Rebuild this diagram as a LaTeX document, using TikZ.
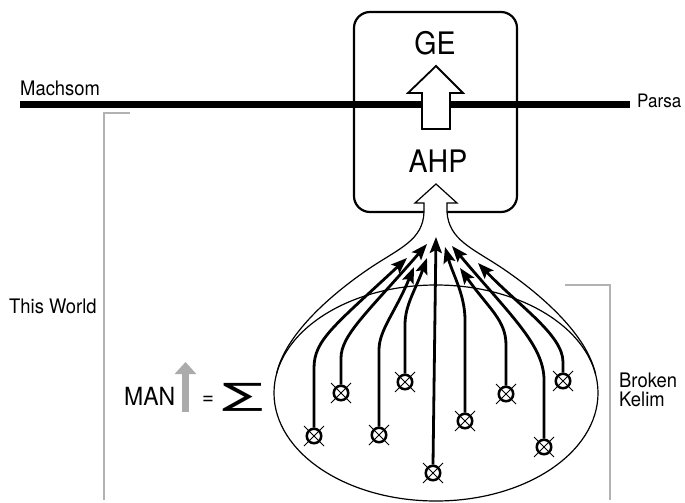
\documentclass[tikz,border=0pt]{standalone}
\usepackage{fontspec}
\setmainfont{TeX Gyre Heros}[FakeStretch=0.92]
\newfontfamily\symfont{DejaVu Sans}
\usetikzlibrary{arrows.meta}
\begin{document}
\begin{tikzpicture}[x=1pt,y=-1pt,
  lbl/.style={font=\fontsize{20}{23}\selectfont, inner sep=0pt, anchor=base west},
  big/.style={font=\fontsize{31}{35}\selectfont, inner sep=0pt, anchor=base},
  flow/.style={line width=2.8pt, -{Stealth[length=16pt,width=12pt,inset=3pt]}},
  xmark/.style={circle, draw, line width=2.5pt, minimum size=14.5pt, inner sep=0pt, fill=white},
  brk/.style={draw=black!30, line width=1.5pt},
  thinline/.style={line width=1.2pt}]
\useasboundingbox (0,0) rectangle (685,503);

% brackets
\draw[brk] (130,113) -- (104,113) -- (104,500);
\draw[brk] (565,285) -- (610,285) -- (610,500);

% box
\node[draw, line width=2.2pt, rounded corners=16pt, minimum width=163pt, minimum height=200pt] (box) at (435.5,112) {};

% thick line
\coordinate (lineL) at (20,104.5);
\coordinate (lineR) at (630,104.5);
\draw[line width=6.5pt] (lineL) -- (lineR);

% GE arrow
\draw[line width=1.8pt, fill=white] (422,129) -- (422,93) -- (408,93) -- (436,66) -- (463,93) -- (450,93) -- (450,129) -- cycle;

\node[big] (ge) at (435,55) {GE};
\node[big] (ahp) at (438,172) {AHP};

% envelope with AHP arrow
\coordinate (eL) at (276.5,374);
\coordinate (eR) at (595.5,374);
\draw[thinline, fill=white] (eL) .. controls (285,335) and (330,295) .. (370,268)
  .. controls (400,248) and (423,240) .. (424,212) -- (424,203) -- (415,203) -- (436,184)
  -- (457,203) -- (447,203) -- (447,212) .. controls (449,240) and (472,248) .. (502,268)
  .. controls (542,295) and (587,335) .. (eR);

% ellipse
\draw[thinline] (436,393) ellipse [x radius=162, y radius=108];

% markers
\foreach \n/\x/\y in {1/314/436, 2/341/393, 3/379/435, 4/405/382, 5/433/473, 6/465/421, 7/506/394, 8/544/447, 9/563/381}{
  \node[xmark] (m\n) at (\x,\y) {};
}

% tips
\coordinate (t1) at (407,258);
\coordinate (t2) at (427,244);
\coordinate (t3) at (414,267);
\coordinate (t4) at (427,258);
\coordinate (t5) at (436,237);
\coordinate (t6) at (445,247);
\coordinate (t7) at (460,268);
\coordinate (t8) at (452,246);
\coordinate (t9) at (478,263);

\draw[flow] (m1.north) -- (314,368) .. controls (314,340) and (334,326) .. (t1);
\draw[flow] (m2.north) -- (341,358) .. controls (341,335) and (368,312) .. (t2);
\draw[flow] (m3.north) -- (379,350) .. controls (379,330) and (395,313) .. (t3);
\draw[flow] (m4.north) -- (405,325) .. controls (405,305) and (415,291) .. (t4);
\draw[flow] (m5.north) -- (t5);
\draw[flow] (m6.north) -- (465,320) .. controls (465,295) and (453,275) .. (t6);
\draw[flow] (m7.north) -- (506,345) .. controls (506,320) and (489,309) .. (t7);
\draw[flow] (m8.north) -- (544,380) .. controls (544,345) and (510,315) .. (t8);
\draw[flow] (m9.north) -- (563,362) .. controls (563,335) and (519,306) .. (t9);

\foreach \n in {1,...,9}{
  \draw[line width=0.9pt] (m\n.center) +(-10,-10) -- +(10,10);
  \draw[line width=0.9pt] (m\n.center) +(-10,10) -- +(10,-10);
}

% labels
\node[lbl] (machsom) at (20,95) {Machsom};
\node[lbl, font=\fontsize{18.5}{21}\selectfont] (parsa) at (637,107) {Parsa};
\node[lbl] (world) at (9,313) {This World};
\node[lbl] (broken) at (619,387) {Broken};
\node[lbl] (kelim) at (619,406) {Kelim};
\node[lbl, font=\fontsize{25}{29}\selectfont] (man) at (124,405) {MAN};
\draw[line width=7pt, draw=black!33, -{Triangle[length=12pt,width=21pt]}] (185.5,412) -- (185.5,362);
\node[lbl, font=\fontsize{22}{26}\selectfont, anchor=base] (eq) at (208,404) {=};
\node[inner sep=0pt] (sigma) at (242.5,397) {\resizebox*{41pt}{28pt}{\symfont ∑}};
\end{tikzpicture}
\end{document}
